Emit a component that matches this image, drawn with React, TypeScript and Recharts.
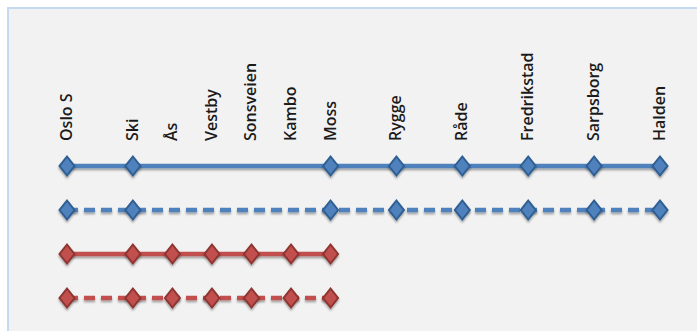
import { LineChart, Line, XAxis, YAxis } from "recharts";

const stations = ["Oslo S", "Ski", "Ås", "Vestby", "Sonsveien", "Kambo", "Moss", "Rygge", "Råde", "Fredrikstad", "Sarpsborg", "Halden"];
const stationPos = [0, 1, 1.6, 2.2, 2.8, 3.4, 4, 5, 6, 7, 8, 9];

const fastStops = ["Oslo S", "Ski", "Moss", "Rygge", "Råde", "Fredrikstad", "Sarpsborg", "Halden"];
const localStops = ["Oslo S", "Ski", "Ås", "Vestby", "Sonsveien", "Kambo", "Moss"];

const rowBlueSolid = 4;
const rowBlueDashed = 3;
const rowRedSolid = 2;
const rowRedDashed = 1;

const posOf = (name: string) => stationPos[stations.indexOf(name)];
const makeRow = (stops: string[], level: number) => stops.map((s) => ({ pos: posOf(s), level }));

const BLUE = "#4f81bd";
const BLUE_DARK = "#2e5e92";
const RED = "#c0504d";
const RED_DARK = "#8e3431";

function Diamond(props: any) {
  const { cx, cy, fill, stroke } = props;
  if (cx == null || cy == null) return null;
  const w = 7.5;
  const h = 9.5;
  return (
    <polygon
      points={`${cx},${cy - h} ${cx + w},${cy} ${cx},${cy + h} ${cx - w},${cy}`}
      fill={fill}
      stroke={stroke}
      strokeWidth={2}
      filter="url(#sh)"
    />
  );
}

function StationTick(props: any) {
  const { x, payload } = props;
  const name = stations[stationPos.indexOf(payload.value)];
  return (
    <text
      transform={`translate(${x + 5},141) rotate(-90)`}
      textAnchor="start"
      fontFamily="'Open Sans', sans-serif"
      fontWeight={600}
      fontSize={16}
      fill="#1a1a1a"
    >
      {name}
    </text>
  );
}

export default function App() {
  return (
    <div style={{ position: "absolute", left: 0, top: 0, width: 697, height: 331, background: "#fff", overflow: "hidden" }}>
      <div
        style={{
          position: "absolute",
          left: 7,
          top: 7,
          width: 697,
          height: 331,
          background: "#f2f2f2",
          borderTop: "2px solid #c6d9f0",
          borderLeft: "2px solid #c6d9f0",
        }}
      />
      <div style={{ position: "absolute", left: 0, top: 0 }}>
        <LineChart width={697} height={331} margin={{ top: 0, right: 37, bottom: 11, left: 67 }}>
          <defs>
            <filter id="sh" filterUnits="userSpaceOnUse" x="0" y="0" width="697" height="331">
              <feDropShadow dx="0" dy="2" stdDeviation="1.2" floodColor="#000" floodOpacity="0.35" />
            </filter>
          </defs>
          <XAxis
            xAxisId={0}
            type="number"
            dataKey="pos"
            orientation="top"
            domain={[0, 9]}
            ticks={stationPos}
            height={144}
            axisLine={false}
            tickLine={false}
            tick={<StationTick />}
            interval={0}
          />
          <YAxis yAxisId={0} type="number" dataKey="level" domain={[0.5, 4.5]} hide width={0} />
          <Line
            data={makeRow(fastStops, rowBlueSolid)}
            dataKey="level"
            stroke={BLUE}
            strokeWidth={4.5}
            filter="url(#sh)"
            dot={<Diamond fill={BLUE} stroke={BLUE_DARK} />}
            activeDot={false}
            isAnimationActive={false}
          />
          <Line
            data={makeRow(fastStops, rowBlueDashed)}
            dataKey="level"
            stroke={BLUE}
            strokeWidth={4.5}
            strokeDasharray="11 6"
            filter="url(#sh)"
            dot={<Diamond fill={BLUE} stroke={BLUE_DARK} />}
            activeDot={false}
            isAnimationActive={false}
          />
          <Line
            data={makeRow(localStops, rowRedSolid)}
            dataKey="level"
            stroke={RED}
            strokeWidth={4.5}
            filter="url(#sh)"
            dot={<Diamond fill={RED} stroke={RED_DARK} />}
            activeDot={false}
            isAnimationActive={false}
          />
          <Line
            data={makeRow(localStops, rowRedDashed)}
            dataKey="level"
            stroke={RED}
            strokeWidth={4.5}
            strokeDasharray="11 6"
            filter="url(#sh)"
            dot={<Diamond fill={RED} stroke={RED_DARK} />}
            activeDot={false}
            isAnimationActive={false}
          />
        </LineChart>
      </div>
    </div>
  );
}
